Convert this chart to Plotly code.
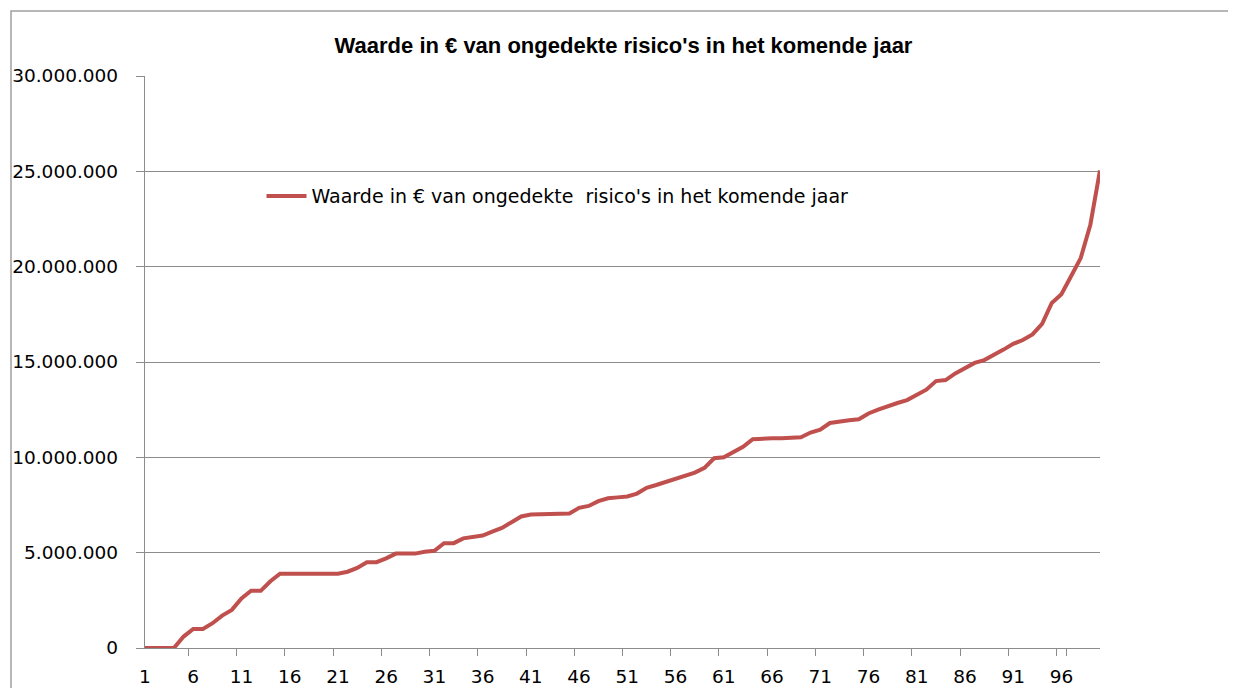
import plotly.graph_objects as go

categories = [str(i) for i in range(1, 101)]

values = [
    0, 0, 0, 0, 600000, 1000000, 1000000, 1300000, 1700000, 2000000,
    2600000, 3000000, 3000000, 3500000, 3900000, 3900000, 3900000, 3900000, 3900000, 3900000,
    3900000, 4000000, 4200000, 4500000, 4500000, 4700000, 4950000, 4950000, 4950000, 5050000,
    5100000, 5500000, 5500000, 5750000, 5850000, 5900000, 6100000, 6300000, 6600000, 6900000,
    7000000, 7000000, 7000000, 7000000, 7050000, 7350000, 7450000, 7700000, 7850000, 7900000,
    7950000, 8100000, 8400000, 8550000, 8700000, 8900000, 9000000, 9200000, 9450000, 9950000,
    10000000, 10250000, 10550000, 10950000, 11000000, 11000000, 11000000, 11000000, 11050000, 11300000,
    11450000, 11800000, 11900000, 11950000, 12000000, 12300000, 12500000, 12700000, 12850000, 13000000,
    13300000, 13550000, 14000000, 14050000, 14400000, 14700000, 14950000, 15100000, 15350000, 15650000,
    15950000, 16150000, 16450000, 17000000, 18100000, 18550000, 19500000, 20450000, 22200000, 25050000,
]

x_tick_labels = [str(i) for i in range(1, 101, 5)]
y_tick_values = [0, 5000000, 10000000, 15000000, 20000000, 25000000, 30000000]

series_name = "Waarde in € van ongedekte  risico's in het komende jaar"
title_text = "Waarde in € van ongedekte risico's in het komende jaar"

fig = go.Figure()
fig.add_trace(go.Scatter(
    x=categories, y=values, mode="lines", name=series_name,
    line=dict(color="#C0504D", width=4),
    showlegend=True,
))

grid_col = "#8c8c8c"

# page has an 8px body margin, so the figure is offset by 8px
ml, mr, mt, mb = 137, 144, 68, 48
pw = 1236 - ml - mr
ph = 688 - mt - mb

fig.update_layout(
    width=1236, height=688,
    paper_bgcolor="white", plot_bgcolor="white",
    margin=dict(l=ml, r=mr, t=mt, b=mb, autoexpand=False),
    separators=",.",
    title=dict(text="<b>" + title_text + "</b>", x=0.498, xanchor="center", y=0.946, yanchor="middle",
               font=dict(family="Liberation Sans, sans-serif", size=22, color="black")),
    showlegend=True,
    legend=dict(x=0.122, y=0.79, xanchor="left", yanchor="middle", bgcolor="rgba(0,0,0,0)",
                font=dict(family="DejaVu Sans, sans-serif", size=19, color="black"),
                itemwidth=40),
    xaxis=dict(
        type="category", tickmode="array", tickvals=x_tick_labels, ticktext=x_tick_labels,
        tickson="boundaries", ticks="outside", ticklen=7, tickcolor=grid_col, tickwidth=1.3,
        showgrid=False, showline=True, linecolor=grid_col, linewidth=1.3,
        tickfont=dict(family="DejaVu Sans, sans-serif", size=18.5, color="black"),
        tickangle=0, automargin=False, ticklabelstandoff=12,
    ),
    yaxis=dict(
        range=[0, 30000000], tickmode="array", tickvals=y_tick_values, tickformat=",d",
        ticks="outside", ticklen=8, tickcolor=grid_col, tickwidth=1.3,
        showgrid=True, gridcolor=grid_col, gridwidth=1.3,
        showline=True, linecolor=grid_col, linewidth=1.3, zeroline=False,
        tickfont=dict(family="DejaVu Sans, sans-serif", size=18.5, color="black"),
        ticklabelstandoff=14, automargin=False,
    ),
    shapes=[dict(type="rect", xref="paper", yref="paper",
                 x0=(3 - ml) / pw, x1=1.3, y0=-0.3, y1=(688 - mb - 3) / ph,
                 line=dict(color="#a0a0a0", width=1.5), fillcolor="rgba(0,0,0,0)", layer="below")],
)

fig.write_html("out.html")
